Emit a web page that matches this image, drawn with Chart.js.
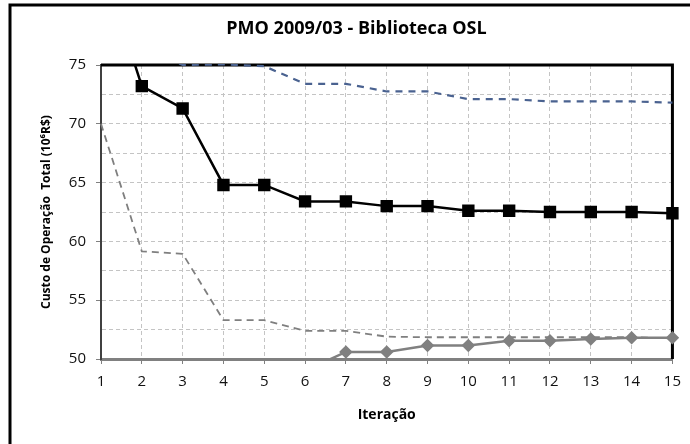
<!DOCTYPE html>
<html>
<head>
<meta charset="utf-8">
<script src="https://cdn.jsdelivr.net/npm/chart.js@4"></script>
<style>
  html, body { margin: 0; padding: 0; background: #fff; }
  #wrap { width: 690px; height: 444px; }
</style>
</head>
<body>
<div id="wrap"><canvas id="myChart" width="690" height="444"></canvas></div>
<script>
// data
const iteracoes = ['1','2','3','4','5','6','7','8','9','10','11','12','13','14','15'];
const custoPreto = [84.0, 73.2, 71.3, 64.8, 64.8, 63.4, 63.4, 63.0, 63.0, 62.6, 62.6, 62.5, 62.5, 62.5, 62.4];
const custoAzul = [79.0, 76.5, 75.0, 75.05, 74.9, 73.4, 73.4, 72.75, 72.75, 72.1, 72.1, 71.9, 71.9, 71.9, 71.8];
const custoCinzaTrac = [70.0, 59.15, 58.95, 53.3, 53.3, 52.4, 52.4, 51.9, 51.85, 51.85, 51.85, 51.85, 51.85, 51.85, 51.75];
const custoCinza = [40.0, 45.5, 46.0, 48.0, 48.0, 49.0, 50.6, 50.6, 51.15, 51.15, 51.55, 51.55, 51.7, 51.8, 51.8];
const yMin = 50, yMax = 75, yStep = 2.5;

const FONT = '"Open Sans", "DejaVu Sans", sans-serif';

// outer frame (cropped: only left and top visible) + black top/right plot border
const frame = {
    id: 'frame',
    beforeDatasetsDraw(chart) {
        const {ctx, chartArea: a} = chart;
        ctx.save();
        ctx.strokeStyle = '#000';
        ctx.lineWidth = 3;
        ctx.beginPath();
        ctx.moveTo(a.left, a.top);
        ctx.lineTo(a.right, a.top);
        ctx.lineTo(a.right, a.bottom);
        ctx.stroke();
        ctx.restore();
    },
    afterDraw(chart) {
        const ctx = chart.ctx;
        ctx.save();
        ctx.strokeStyle = '#000';
        ctx.lineWidth = 3;
        ctx.beginPath();
        ctx.moveTo(10, chart.height);
        ctx.lineTo(10, 5);
        ctx.lineTo(chart.width, 5);
        ctx.stroke();
        ctx.restore();
    }
};

const clip = {left: 8, right: 8, top: 1, bottom: 1};

new Chart(document.getElementById('myChart'), {
    type: 'line',
    data: {
        labels: iteracoes,
        datasets: [
            {
                data: custoCinza,
                borderColor: '#808080',
                backgroundColor: '#808080',
                borderWidth: 2.5,
                pointStyle: 'rectRot',
                pointRadius: 5,
                tension: 0,
                clip: clip
            },
            {
                data: custoCinzaTrac,
                borderColor: '#7f7f7f',
                borderWidth: 1.8,
                borderDash: [7, 5],
                pointRadius: 0,
                tension: 0,
                clip: clip
            },
            {
                data: custoAzul,
                borderColor: '#4a6290',
                borderWidth: 2.2,
                borderDash: [7, 6],
                pointRadius: 0,
                tension: 0,
                clip: clip
            },
            {
                data: custoPreto,
                borderColor: '#000',
                backgroundColor: '#000',
                borderWidth: 2.5,
                pointStyle: 'rect',
                pointRadius: 7,
                tension: 0,
                clip: clip
            }
        ]
    },
    options: {
        responsive: false,
        animation: false,
        layout: { padding: { left: 38, right: 15, top: 0, bottom: 17 } },
        plugins: {
            legend: { display: false },
            tooltip: { enabled: false },
            title: {
                display: true,
                text: 'PMO 2009/03 - Biblioteca OSL',
                color: '#000',
                font: { family: FONT, size: 18, weight: 'bold', lineHeight: 1.2 },
                padding: { top: 18, bottom: 25.4 }
            }
        },
        scales: {
            x: {
                type: 'category',
                offset: false,
                grid: {
                    color: '#c4c4c4',
                    lineWidth: 1,
                    tickLength: 5,
                    tickColor: '#808080',
                    tickBorderDash: []
                },
                border: { display: true, color: '#808080', width: 3, dash: [4, 3] },
                ticks: {
                    color: '#111',
                    padding: 9,
                    maxRotation: 0,
                    autoSkip: false,
                    font: { family: FONT, size: 15 }
                },
                title: {
                    display: true,
                    text: 'Iteração',
                    color: '#000',
                    padding: { top: 4, bottom: 4 },
                    font: { family: FONT, size: 14, weight: 'bold' }
                },
                afterFit(scale) { scale.height = 68; }
            },
            y: {
                min: yMin,
                max: yMax,
                grid: {
                    color: '#c4c4c4',
                    lineWidth: 1,
                    tickLength: 5,
                    tickColor: (c) => (c.tick && c.tick.value % 5 === 0) ? '#808080' : 'rgba(0,0,0,0)',
                    tickBorderDash: []
                },
                border: { display: true, color: '#404040', width: 2, dash: [4, 3] },
                ticks: {
                    stepSize: yStep,
                    color: '#111',
                    padding: 10,
                    font: { family: FONT, size: 15 },
                    callback: (v) => (v % 5 === 0) ? v : ''
                },
                title: {
                    display: true,
                    text: 'Custo de Operação  Total (10⁶R$)',
                    color: '#000',
                    padding: { top: 1, bottom: 1 },
                    font: { family: FONT, size: 12, weight: 'bold' }
                },
                afterFit(scale) { scale.width = 63; }
            }
        }
    },
    plugins: [frame]
});
</script>
</body>
</html>
